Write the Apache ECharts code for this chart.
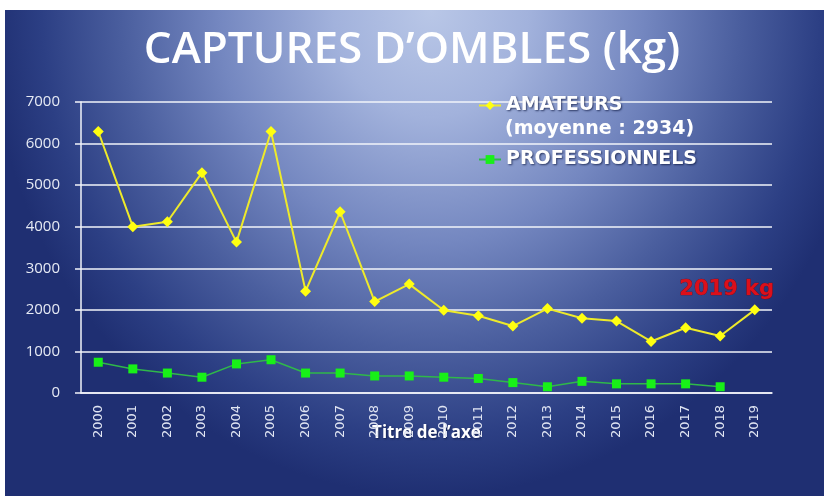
<!DOCTYPE html>
<html>
<head>
<meta charset="utf-8">
<script src="https://cdn.jsdelivr.net/npm/echarts@6/dist/echarts.min.js"></script>
<style>
  html, body { margin: 0; padding: 0; background: #fff; }
  #bg {
    position: absolute; left: 5px; top: 10px; width: 819px; height: 486px;
    background: radial-gradient(ellipse 54% 100% at 52% 0%,
      #b9c7e7 0%, #a2b2dc 22%, #7487c0 48%, #4a5e9e 70%, #2c3f84 88%, #1f2f72 100%);
  }
  #chart { position: absolute; left: 0; top: 0; width: 824px; height: 496px; }
</style>
</head>
<body>
<div id="bg"></div>
<div id="chart"></div>
<script>
const years = ['2000','2001','2002','2003','2004','2005','2006','2007','2008','2009',
               '2010','2011','2012','2013','2014','2015','2016','2017','2018','2019']
const amateurs = [6290, 4000, 4120, 5300, 3630, 6290, 2450, 4360, 2200, 2620,
                  1990, 1860, 1610, 2030, 1800, 1730, 1240, 1570, 1370, 2000]
const professionnels = [740, 580, 480, 380, 700, 800, 480, 480, 410, 410,
                        380, 350, 250, 150, 280, 220, 220, 220, 150, null]
const yTicks = { min: 0, max: 7000, interval: 1000 }

const white = '#f2f4fa'
const shadow = { textShadowColor: 'rgba(10,20,60,0.7)', textShadowBlur: 2, textShadowOffsetX: 1, textShadowOffsetY: 1 }

const chart = echarts.init(document.getElementById('chart'), null, { renderer: 'canvas' })

chart.setOption({
  backgroundColor: 'transparent',
  animation: false,
  title: {
    text: 'CAPTURES D’OMBLES (kg)',
    left: 'center', top: 28, padding: 0,
    textStyle: { color: '#ffffff', fontFamily: 'Open Sans', fontWeight: 600, fontSize: 44 }
  },
  grid: { left: 81, right: 52, top: 102, bottom: 103 },
  legend: {
    orient: 'vertical', left: 478, top: 96, itemGap: 35, padding: 0,
    itemWidth: 22, itemHeight: 11,
    data: ['AMATEURS', 'PROFESSIONNELS'],
    textStyle: { color: '#ffffff', fontFamily: 'DejaVu Sans', fontWeight: 'bold', fontSize: 19, ...shadow }
  },
  graphic: [
    {
      type: 'text', left: 505, top: 120,
      style: { text: '(moyenne : 2934)', fill: '#ffffff', font: 'bold 19px "DejaVu Sans"',
               shadowColor: 'rgba(10,20,60,0.7)', shadowBlur: 2, shadowOffsetX: 1, shadowOffsetY: 1 }
    },
    {
      type: 'text', left: 679, top: 279,
      style: { text: '2019 kg', fill: '#dc0f1a', font: 'bold 21px "DejaVu Sans"',
               stroke: '#7a0a10', lineWidth: 0.6 }
    }
  ],
  xAxis: {
    type: 'category', data: years,
    name: 'Titre de l’axe', nameLocation: 'middle', nameGap: 32, nameMoveOverlap: false,
    nameTextStyle: { color: '#ffffff', fontFamily: 'Open Sans', fontWeight: 700, fontSize: 17, ...shadow },
    axisLine: { lineStyle: { color: white, width: 1.5 } },
    axisTick: { length: 6, lineStyle: { color: white, width: 1.5 } },
    axisLabel: { rotate: 90, margin: 12, color: '#dfe4f2', fontFamily: 'DejaVu Sans', fontSize: 13 }
  },
  yAxis: {
    type: 'value', ...yTicks,
    axisLine: { show: true, lineStyle: { color: white, width: 1.5 } },
    axisTick: { show: true, length: 6, lineStyle: { color: white, width: 1.5 } },
    axisLabel: { margin: 21, color: '#e6eaf4', fontFamily: 'Open Sans', fontSize: 15, formatter: v => String(v) },
    splitLine: { lineStyle: { color: white, width: 1.5 } }
  },
  series: [
    {
      name: 'AMATEURS', type: 'line', data: amateurs,
      symbol: 'diamond', symbolSize: 11,
      lineStyle: { color: '#eeea2a', width: 2 },
      itemStyle: { color: '#ffff10' }
    },
    {
      name: 'PROFESSIONNELS', type: 'line', data: professionnels,
      symbol: 'rect', symbolSize: 9,
      lineStyle: { color: '#2fb84a', width: 1.5 },
      itemStyle: { color: '#18f018' }
    }
  ]
})
</script>
</body>
</html>
